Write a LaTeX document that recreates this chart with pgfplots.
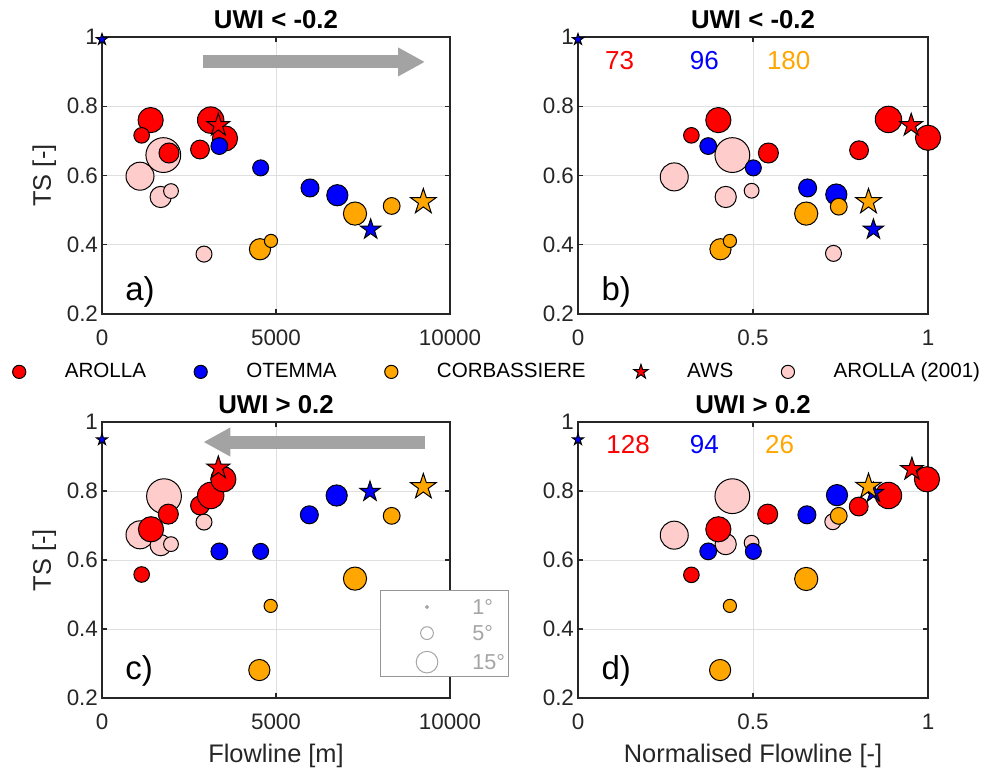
\documentclass[border=0pt]{standalone}
\usepackage{fontspec}
\setmainfont{Liberation Sans}
\usepackage{pgfplots}
\pgfplotsset{compat=1.18}
\usetikzlibrary{arrows.meta}

\definecolor{cRed}{RGB}{255,0,0}
\definecolor{cBlue}{RGB}{0,0,255}
\definecolor{cOrange}{RGB}{255,166,0}
\definecolor{cPink}{RGB}{255,204,204}
\definecolor{gridgray}{RGB}{223,223,223}
\definecolor{axgray}{RGB}{38,38,38}
\definecolor{arrowgray}{RGB}{163,163,163}
\definecolor{boxgray}{RGB}{150,150,150}
\definecolor{sizegray}{RGB}{165,165,165}

\pgfdeclareplotmark{pent}{%
  \pgfpathmoveto{\pgfpointpolar{90}{\pgfplotmarksize}}%
  \pgfpathlineto{\pgfpointpolar{126}{0.382\pgfplotmarksize}}%
  \pgfpathlineto{\pgfpointpolar{162}{\pgfplotmarksize}}%
  \pgfpathlineto{\pgfpointpolar{198}{0.382\pgfplotmarksize}}%
  \pgfpathlineto{\pgfpointpolar{234}{\pgfplotmarksize}}%
  \pgfpathlineto{\pgfpointpolar{270}{0.382\pgfplotmarksize}}%
  \pgfpathlineto{\pgfpointpolar{306}{\pgfplotmarksize}}%
  \pgfpathlineto{\pgfpointpolar{342}{0.382\pgfplotmarksize}}%
  \pgfpathlineto{\pgfpointpolar{18}{\pgfplotmarksize}}%
  \pgfpathlineto{\pgfpointpolar{54}{0.382\pgfplotmarksize}}%
  \pgfpathclose
  \pgfusepathqfillstroke
}

\tikzset{
  plab/.style={anchor=west, inner sep=0pt, font=\fontsize{16.5}{18}\selectfont},
  cnt/.style={anchor=center, font=\fontsize{13}{15}\selectfont},
}

\pgfplotsset{
  panel/.style={
    scale only axis, width=174pt, height=138.5pt,
    ymin=0.2, ymax=1, ytick={0.2,0.4,0.6,0.8,1},
    grid=major, major grid style={draw=gridgray, line width=0.5pt},
    axis line style={draw=axgray, line width=0.6pt},
    tick style={draw=axgray, line width=0.6pt},
    tick align=inside, major tick length=2.5pt,
    tick label style={font=\fontsize{11.2}{13}\selectfont, text=axgray},
    xticklabel style={yshift=-4.5pt},
    yticklabel style={xshift=1.5pt},
    label style={font=\fontsize{12.7}{14}\selectfont, text=axgray},
    /pgf/number format/assume math mode=true,
    /pgf/number format/1000 sep={},
    scaled ticks=false,
    title style={font=\bfseries\fontsize{12.9}{14}\selectfont, yshift=-5.5pt},
    clip=false,
  },
  flow/.style={xmin=0, xmax=10000, xtick={0,5000,10000}},
  norm/.style={xmin=0, xmax=1, xtick={0,0.5,1}},
  bub/.style={scatter, only marks, mark=*, line width=0.5pt,
    scatter/use mapped color={draw=black, fill=#1},
    visualization depends on={\thisrow{r} \as \rr},
    scatter/@pre marker code/.append style={/tikz/mark size=\rr},
    forget plot},
  st/.style n args={2}{only marks, mark=pent, mark size=#2, line width=0.5pt,
    mark options={draw=black, fill=#1}, forget plot},
}

\begin{document}
\begin{tikzpicture}
\useasboundingbox (0,0) rectangle (497.5pt,385pt);

% ---------------- panel a ----------------
\begin{axis}[panel, flow, at={(51pt,228pt)}, anchor=south west,
  title={UWI < -0.2}, ylabel={TS [-]},
  ylabel style={at={(axis description cs:-0.166,0.5)}, anchor=center},
  legend columns=5,
  legend style={at={(axis description cs:-0.258,-0.209)}, anchor=west,
    draw=none, fill=none, inner sep=0pt,
    font=\fontsize{10.3}{12}\selectfont,
    /tikz/every odd column/.append style={column sep=17.5pt},
    /tikz/every even column/.append style={column sep=22pt}},
  legend cell align=left]
\addlegendimage{only marks, mark=*, mark size=3.3pt, line width=0.5pt, mark options={draw=black, fill=cRed}}
\addlegendentry{AROLLA}
\addlegendimage{only marks, mark=*, mark size=3.3pt, line width=0.5pt, mark options={draw=black, fill=cBlue}}
\addlegendentry{OTEMMA}
\addlegendimage{only marks, mark=*, mark size=3.3pt, line width=0.5pt, mark options={draw=black, fill=cOrange}}
\addlegendentry{CORBASSIERE}
\addlegendimage{only marks, mark=pent, mark size=3.8pt, line width=0.5pt, mark options={draw=black, fill=cRed}}
\addlegendentry{AWS}
\addlegendimage{only marks, mark=*, mark size=3.3pt, line width=0.5pt, mark options={draw=black, fill=cPink}}
\addlegendentry{AROLLA (2001)}
\draw[arrowgray, line width=6.5pt, -{Triangle[length=13.5pt,width=13.5pt]}] (axis cs:2912,0.928) -- (axis cs:9282,0.928);
\addplot[bub=cPink] table[row sep=\\]{x y r\\ 1092 0.598 7\\ 1762 0.659 8.7\\ 1686 0.538 5.3\\ 1983 0.555 3.7\\ 2931 0.373 4\\};
\addplot[bub=cRed] table[row sep=\\]{x y r\\ 1398 0.760 6.3\\ 1140 0.716 3.9\\ 1925 0.665 5\\ 2816 0.675 4.7\\ 3123 0.760 6.6\\ 3534 0.707 6.3\\};
\addplot[bub=cBlue] table[row sep=\\]{x y r\\ 3372 0.685 4.2\\ 4559 0.622 4\\ 5977 0.564 4.5\\ 6762 0.543 5.3\\};
\addplot[bub=cOrange] table[row sep=\\]{x y r\\ 4540 0.387 5.3\\ 4856 0.411 3.3\\ 7270 0.490 5.8\\ 8324 0.512 4.2\\};
\addplot[st={cRed}{6pt}] coordinates {(3343,0.745)};
\addplot[st={cBlue}{5.3pt}] coordinates {(7720,0.444)};
\addplot[st={cBlue}{3pt}] coordinates {(0,0.993)};
\addplot[st={cOrange}{6.7pt}] coordinates {(9234,0.524)};
\node[plab] at (rel axis cs:0.066,0.079) {a)};
\end{axis}

% ---------------- panel b ----------------
\begin{axis}[panel, norm, at={(289pt,228pt)}, anchor=south west,
  width=175pt, title={UWI < -0.2}]
\addplot[bub=cPink] table[row sep=\\]{x y r\\ 0.275 0.596 7\\ 0.441 0.659 8.7\\ 0.422 0.538 5.3\\ 0.496 0.556 3.7\\ 0.730 0.375 4\\};
\addplot[bub=cRed] table[row sep=\\]{x y r\\ 0.401 0.760 6.3\\ 0.324 0.716 3.9\\ 0.544 0.665 5\\ 0.803 0.673 4.7\\ 0.887 0.762 6.6\\ 1.0 0.709 6.3\\};
\addplot[bub=cBlue] table[row sep=\\]{x y r\\ 0.372 0.685 4.2\\ 0.501 0.622 4\\ 0.656 0.564 4.5\\ 0.738 0.545 5.3\\};
\addplot[bub=cOrange] table[row sep=\\]{x y r\\ 0.407 0.387 5.3\\ 0.434 0.411 3.3\\ 0.652 0.490 5.8\\ 0.745 0.510 4.2\\};
\addplot[st={cRed}{6pt}] coordinates {(0.952,0.745)};
\addplot[st={cBlue}{5.3pt}] coordinates {(0.844,0.444)};
\addplot[st={cBlue}{3pt}] coordinates {(0,0.993)};
\addplot[st={cOrange}{6.7pt}] coordinates {(0.830,0.524)};
\node[cnt, text=cRed] at (axis cs:0.119,0.931) {73};
\node[cnt, text=cBlue] at (axis cs:0.361,0.931) {96};
\node[cnt, text=cOrange] at (axis cs:0.602,0.931) {180};
\node[plab] at (rel axis cs:0.066,0.079) {b)};
\end{axis}

% ---------------- panel c ----------------
\begin{axis}[panel, flow, at={(51pt,36pt)}, anchor=south west,
  height=138pt, title={UWI > 0.2}, ylabel={TS [-]}, xlabel={Flowline [m]},
  ylabel style={at={(axis description cs:-0.166,0.5)}, anchor=center},
  xlabel style={at={(axis description cs:0.5,-0.21)}, anchor=center}]
\draw[arrowgray, line width=6.5pt, -{Triangle[length=13.5pt,width=13.5pt]}] (axis cs:9282,0.942) -- (axis cs:2912,0.942);
\addplot[bub=cPink] table[row sep=\\]{x y r\\ 1092 0.673 7\\ 1782 0.785 8.7\\ 1686 0.643 5.3\\ 1983 0.646 3.7\\ 2931 0.710 4\\};
\addplot[bub=cRed] table[row sep=\\]{x y r\\ 1408 0.689 6.3\\ 1140 0.558 3.9\\ 1906 0.733 5\\ 2816 0.758 4.7\\ 3123 0.787 6.6\\ 3487 0.834 6.3\\};
\addplot[bub=cBlue] table[row sep=\\]{x y r\\ 3372 0.625 4.2\\ 4559 0.625 4\\ 5958 0.731 4.5\\ 6743 0.787 5.3\\};
\addplot[bub=cOrange] table[row sep=\\]{x y r\\ 4521 0.281 5.3\\ 4847 0.467 3.3\\ 7270 0.546 5.8\\ 8324 0.728 4.2\\};
\addplot[st={cRed}{6pt}] coordinates {(3343,0.867)};
\addplot[st={cBlue}{5.3pt}] coordinates {(7701,0.798)};
\addplot[st={cBlue}{3pt}] coordinates {(0,0.949)};
\addplot[st={cOrange}{6.7pt}] coordinates {(9234,0.812)};
\node[plab] at (rel axis cs:0.066,0.098) {c)};
\end{axis}

% size legend overlay on panel c
\begin{axis}[scale only axis, width=174pt, height=138pt, at={(51pt,36pt)}, anchor=south west,
  xmin=0, xmax=10000, ymin=0.2, ymax=1, hide axis, clip=false]
\draw[draw=boxgray, fill=white, line width=0.5pt] (axis cs:8017,0.261) rectangle (axis cs:11667,0.511);
\addplot[only marks, mark=*, mark size=0.8pt, mark options={draw=sizegray, fill=sizegray}] coordinates {(9339,0.464)};
\addplot[only marks, mark=o, mark size=3.2pt, line width=0.5pt, mark options={draw=sizegray}] coordinates {(9339,0.388)};
\addplot[only marks, mark=o, mark size=5.4pt, line width=0.5pt, mark options={draw=sizegray}] coordinates {(9339,0.304)};
\node[anchor=west, inner sep=0pt, text=sizegray, font=\fontsize{10.8}{12}\selectfont] at (axis cs:10632,0.464) {1°};
\node[anchor=west, inner sep=0pt, text=sizegray, font=\fontsize{10.8}{12}\selectfont] at (axis cs:10632,0.388) {5°};
\node[anchor=west, inner sep=0pt, text=sizegray, font=\fontsize{10.8}{12}\selectfont] at (axis cs:10632,0.304) {15°};
\end{axis}

% ---------------- panel d ----------------
\begin{axis}[panel, norm, at={(289pt,36pt)}, anchor=south west,
  width=175pt, height=138pt, title={UWI > 0.2}, xlabel={Normalised Flowline [-]},
  xlabel style={at={(axis description cs:0.5,-0.21)}, anchor=center}]
\addplot[bub=cPink] table[row sep=\\]{x y r\\ 0.275 0.672 7\\ 0.441 0.785 8.7\\ 0.422 0.646 5.3\\ 0.496 0.650 3.7\\ 0.728 0.711 4\\};
\addplot[bub=cRed] table[row sep=\\]{x y r\\ 0.401 0.689 6.3\\ 0.324 0.557 3.9\\ 0.542 0.733 5\\ 0.802 0.755 4.7\\ 0.887 0.787 6.6\\ 0.997 0.834 6.3\\};
\addplot[bub=cBlue] table[row sep=\\]{x y r\\ 0.372 0.625 4.2\\ 0.501 0.625 4\\ 0.654 0.731 4.5\\ 0.740 0.788 5.3\\};
\addplot[bub=cOrange] table[row sep=\\]{x y r\\ 0.406 0.281 5.3\\ 0.434 0.467 3.3\\ 0.652 0.545 5.8\\ 0.745 0.728 4.2\\};
\addplot[st={cRed}{6pt}] coordinates {(0.954,0.863)};
\addplot[st={cBlue}{5.3pt}] coordinates {(0.844,0.795)};
\addplot[st={cBlue}{3pt}] coordinates {(0,0.949)};
\addplot[st={cOrange}{6.7pt}] coordinates {(0.830,0.813)};
\node[cnt, text=cRed] at (axis cs:0.143,0.935) {128};
\node[cnt, text=cBlue] at (axis cs:0.361,0.935) {94};
\node[cnt, text=cOrange] at (axis cs:0.576,0.935) {26};
\node[plab] at (rel axis cs:0.066,0.098) {d)};
\end{axis}
\end{tikzpicture}
\end{document}
